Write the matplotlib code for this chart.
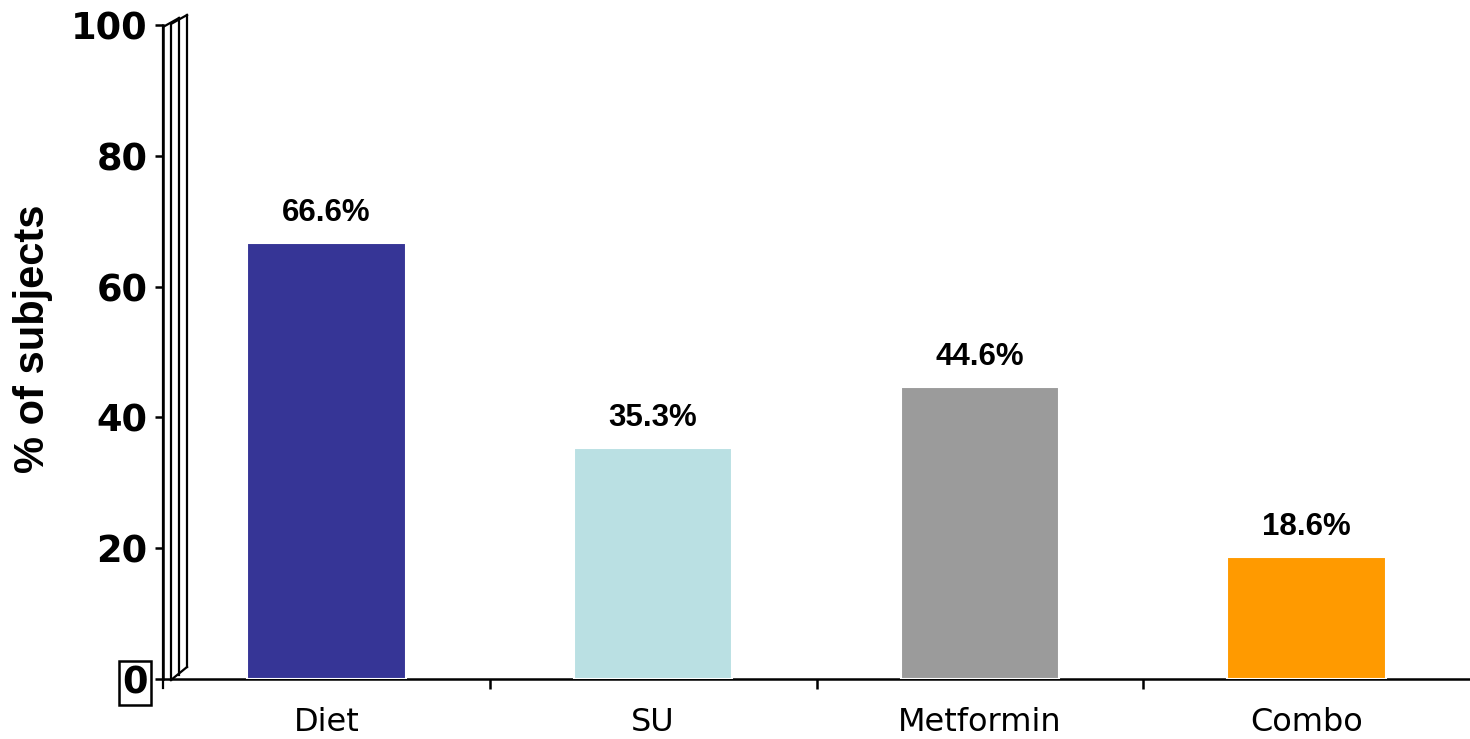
import matplotlib
matplotlib.use('Agg')
import matplotlib.pyplot as plt

categories = ["Diet", "SU", "Metformin", "Combo"]
values = [66.6, 35.3, 44.6, 18.6]
colors = ["#363596", "#BAE0E3", "#9B9B9B", "#FF9A00"]
y_ticks = [0, 20, 40, 60, 80, 100]

fig = plt.figure(figsize=(14.7, 7.39), dpi=100)
ax = fig.add_axes([163 / 1470, 60 / 739, 1307 / 1470, 654 / 739])

x = range(len(categories))
ax.bar(x, values, width=0.485, color=colors, edgecolor="white", linewidth=1.5, zorder=3)

for i, v in enumerate(values):
    ax.annotate(f"{v}%", (i, v), xytext=(0, 11), textcoords="offset points",
                ha="center", va="bottom", fontsize=22.5, fontweight="bold",
                family="Liberation Sans")

ax.set_xlim(-0.5, 3.5)
ax.set_ylim(0, 100)
ax.set_yticks(y_ticks)
ax.set_yticklabels([str(t) for t in y_ticks], fontsize=26.5, fontweight="bold")
ax.get_yticklabels()[0].set_bbox(dict(boxstyle="square,pad=0.1", fc="none", ec="black", lw=1.8))
ax.tick_params(axis="y", direction="out", length=6, width=1.8, pad=5)

ax.set_xticks(list(x))
ax.set_xticklabels(categories, fontsize=23)
ax.tick_params(axis="x", length=0, pad=20)
ax.set_xticks([0.5, 1.5, 2.5], minor=True)
ax.tick_params(axis="x", which="minor", direction="out", length=7, width=1.8)

ax.set_ylabel("% of subjects", fontsize=30, fontweight="bold", family="Liberation Sans")
ax.yaxis.set_label_coords(-0.084, 0.52)

ax.spines["top"].set_visible(False)
ax.spines["right"].set_visible(False)
ax.spines["left"].set_linewidth(1.8)
ax.spines["bottom"].set_linewidth(1.8)

# the thin 3D wall next to the value axis (pixel offsets -> axes fraction)
W, H = 1307.0, 654.0
def px(dx, dy):
    return dx / W, dy / H

wall = [
    [px(0, -9), px(0, 652), px(16, 661)],
    [px(8, -1), px(8, 655), px(24, 664)],
    [px(16, 4), px(16, 661)],
    [px(24, 12), px(24, 664)],
    [px(24, 12), px(8, -1)],
]
for seg in wall:
    xs, ys = zip(*seg)
    ax.plot(xs, ys, transform=ax.transAxes, color="black", lw=1.6, clip_on=False, zorder=5)

fig.savefig("out.png", dpi=100)
